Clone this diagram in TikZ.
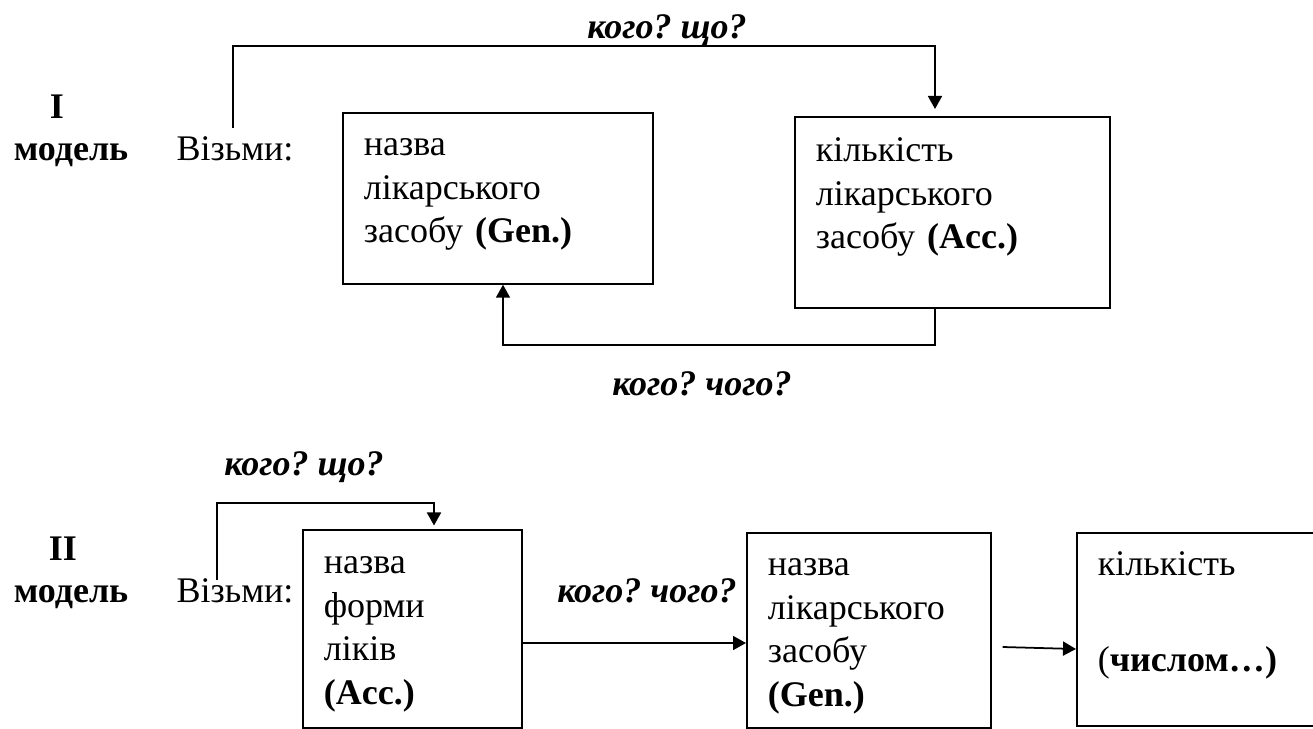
\documentclass[tikz,border=0pt]{standalone}
\usepackage{fontspec}
\setmainfont{Liberation Serif}
\usetikzlibrary{arrows.meta,calc}
\newcommand{\txtsz}{\fontsize{20.5}{24.7}\selectfont\frenchspacing}
\tikzset{
  frm/.style={rectangle, draw=black, line width=1pt, anchor=north west, align=left, inner xsep=0.42cm, inner ysep=0pt},
  tag/.style={anchor=base, inner sep=0pt},
  hdr/.style={tag, font=\txtsz\bfseries},
  qst/.style={tag, font=\txtsz\bfseries\itshape},
  conn/.style={line width=1pt},
  arr/.style={conn, -{Triangle[length=2.6mm, width=2.8mm]}},
}

\begin{document}
\begin{tikzpicture}[x=0.02cm, y=-0.02cm, font=\txtsz]
  \clip (0,0) rectangle (1313,728);
  % model I
  \node[hdr] (num1) at (57,118) {I};
  \node[hdr] (mod1) at (71,160) {модель};
  \node[tag] (vz1) at (235,160) {Візьми:};
  \node[frm, text width=5.36cm, text height=0.86cm, text depth=2.56cm] (gen1) at (342,112)
    {назва\\лікарського\\засобу \textbf{(Gen.)}};
  \node[frm, text width=5.46cm, text height=0.9cm, text depth=2.92cm] (acc1) at (794,116)
    {кількість\\лікарського\\засобу \textbf{(Acc.)}};
  \node[qst] (q1) at (667,38) {кого? що?};
  \node[qst] (q2) at (702,395) {кого? чого?};
  \draw[arr, shorten >=4pt] ($(vz1.north)+(-2,-8)$) -- ++(0,-82) -| ($(acc1.north west)+(141,0)$);
  \draw[arr] ($(acc1.south west)+(141,0)$) -- ++(0,36) -| ($(gen1.south west)+(161,0)$);
  % model II
  \node[hdr] (num2) at (63,560) {II};
  \node[hdr] (mod2) at (71,602) {модель};
  \node[tag] (vz2) at (235,602) {Візьми:};
  \node[frm, text width=3.54cm, text height=0.88cm, text depth=3.08cm] (form) at (302,529)
    {назва\\форми\\ліків\\\textbf{(Acc.)}};
  \node[frm, text width=4.04cm, text height=0.86cm, text depth=3.04cm] (name2) at (746,532)
    {назва\\лікарського\\засобу\\\textbf{(Gen.)}};
  \node[frm, text width=4.44cm, text height=0.86cm, text depth=3.0cm] (cnt2) at (1076,532)
    {кількість\\[1.04cm](\textbf{числом…)}};
  \node[qst] (q3) at (304,475) {кого? що?};
  \node[qst] (q4) at (647,602) {кого? чого?};
  \draw[arr, shorten >=2pt] ($(vz2.north west)+(41,2)$) -- ++(0,-77) -| ($(form.north west)+(132,0)$);
  \draw[arr] ($(form.north east)+(0,114)$) -- ($(name2.north west)+(0,111)$);
  \draw[arr] ($(name2.north east)+(11,115)$) -- ($(cnt2.north west)+(0,117)$);
\end{tikzpicture}
\end{document}
